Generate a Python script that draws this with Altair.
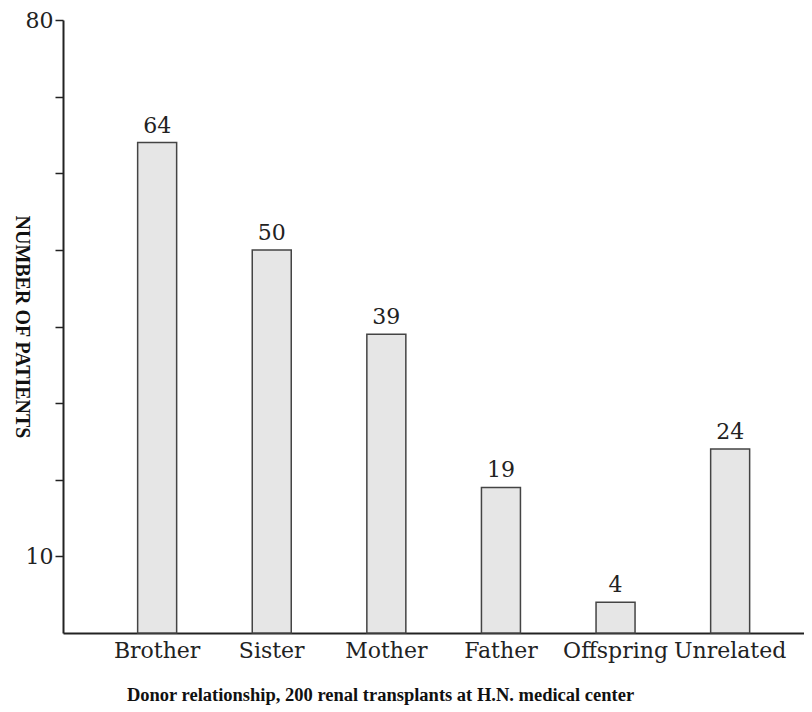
import altair as alt
import pandas as pd

donors = ["Brother", "Sister", "Mother", "Father", "Offspring", "Unrelated"]
patients = [64, 50, 39, 19, 4, 24]
y_ticks = [10, 20, 30, 40, 50, 60, 70, 80]
y_labelled = [10, 80]

df = pd.DataFrame({"donor": donors, "patients": patients})

x_enc = alt.X(
    "donor:N",
    sort=donors,
    scale=alt.Scale(paddingInner=0, paddingOuter=0.233, align=0.69),
    axis=alt.Axis(
        title="Donor relationship, 200 renal transplants at H.N. medical center",
        titleFont="Liberation Serif",
        titleFontSize=18.5,
        titleFontWeight="bold",
        titleColor="#111",
        titleX=317,
        titleAnchor="start",
        titleAlign="center",
        titlePadding=24,
        labelAngle=0,
        labelFont="DejaVu Serif",
        labelFontSize=22,
        labelColor="#222",
        labelPadding=7,
        ticks=False,
        domainColor="#222",
        domainWidth=2,
    ),
)

y_enc = alt.Y(
    "patients:Q",
    scale=alt.Scale(domain=[0, 80], nice=False),
    axis=alt.Axis(
        title="NUMBER OF PATIENTS",
        titleFont="Liberation Serif",
        titleFontSize=20,
        titleFontWeight="bold",
        titleColor="#111",
        titleAngle=90,
        titleX=-52,
        values=y_ticks,
        labelExpr="indexof([" + ",".join(str(v) for v in y_labelled) + "], datum.value) >= 0 ? datum.label : ''",
        labelFont="DejaVu Serif",
        labelFontSize=22,
        labelColor="#222",
        labelPadding=2,
        tickSize=8,
        tickWidth=1.5,
        tickColor="#222",
        domainColor="#222",
        domainWidth=2,
        grid=False,
    ),
)

bars = alt.Chart(df).mark_bar(
    size=39, fill="#e6e6e6", stroke="#444", strokeWidth=1.5
).encode(x=x_enc, y=y_enc)

labels = alt.Chart(df).mark_text(
    baseline="bottom", dy=-5, font="DejaVu Serif", fontSize=22, color="#222"
).encode(x=alt.X("donor:N", sort=donors), y="patients:Q", text="patients:Q")

chart = (
    alt.layer(bars, labels)
    .properties(
        width=741,
        height=613,
        background="white",
        autosize=alt.AutoSizeParams(type="none"),
        padding={"left": 55, "top": 12, "right": 0, "bottom": 75},
    )
    .configure_view(stroke=None)
)

chart.save("out.html", embed_options={"renderer": "svg", "actions": False})
